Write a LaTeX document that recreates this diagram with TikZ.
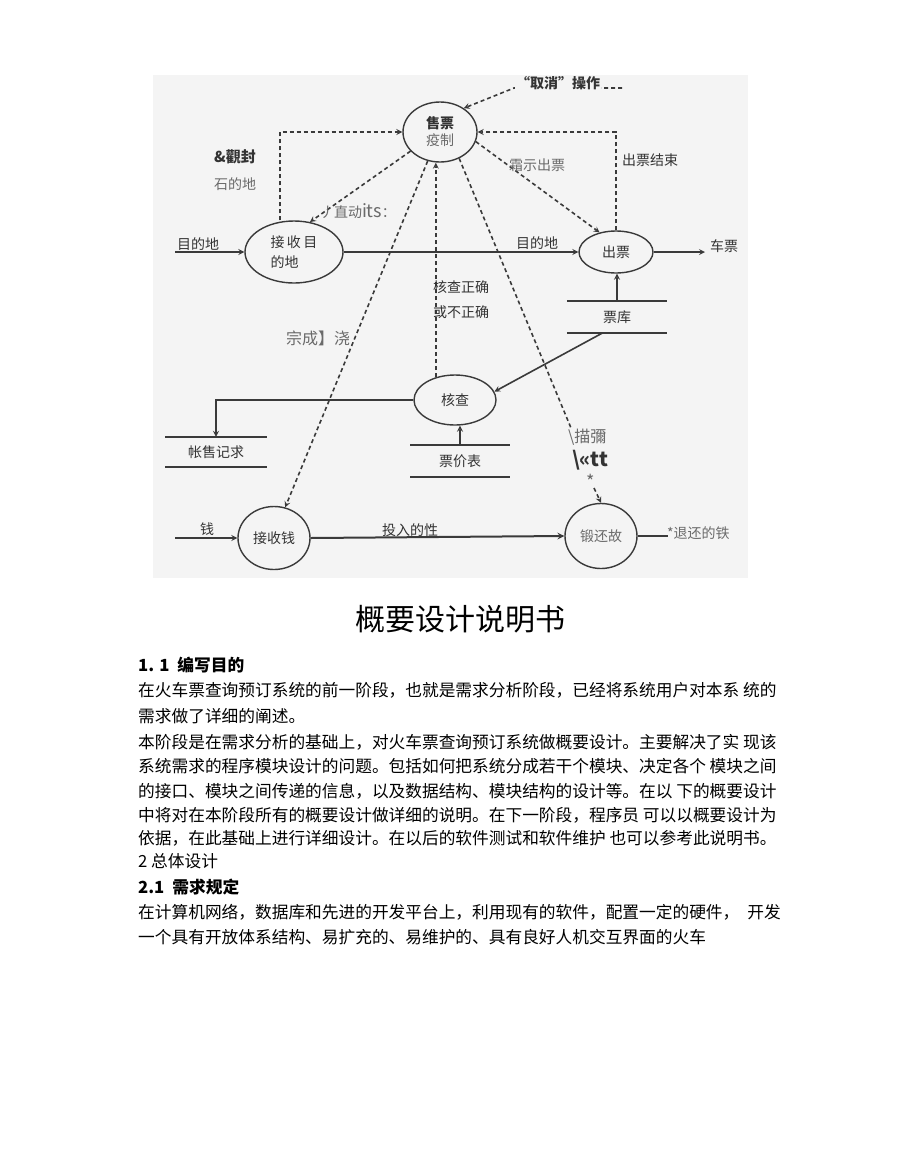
\documentclass[tikz,border=0pt]{standalone}
\usepackage{fontspec}
\setmainfont{Noto Sans CJK SC}
\usetikzlibrary{shapes.geometric}
\definecolor{ink}{HTML}{3A3A3A}
\definecolor{scan}{HTML}{F4F4F4}
\definecolor{ocr}{HTML}{6A6A6A}

\begin{document}
\begin{tikzpicture}[x=1pt,y=-1pt,
  proc/.style={ellipse,draw=ink,line width=1.4pt,inner sep=0pt,align=center,text=black!80,font=\fontsize{14}{17}\selectfont},
  flow/.style={-stealth,line width=1.6pt,draw=ink},
  ctrl/.style={-stealth,line width=1.6pt,draw=ink,dash pattern=on 4pt off 3pt},
  storeline/.style={line width=1.8pt,draw=ink},
  store/.style={inner sep=0pt,minimum height=31pt,text=black!80,font=\fontsize{14}{17}\selectfont},
  lbl/.style={inner sep=1pt,text=black!80,font=\fontsize{14}{17}\selectfont},
  ocrlbl/.style={inner sep=1pt,text=ocr,font=\fontsize{14}{17}\selectfont},
  body/.style={anchor=west,inner sep=0pt,font=\fontsize{16.7}{20}\selectfont}]
  \useasboundingbox (0,0) rectangle (920,1168);
  \fill[scan] (153,75) rectangle (748,578);

  % processes
  \node[proc,minimum width=74pt,minimum height=60pt] (sell) at (440,132) {{\bfseries 售票}\\{\color{ocr}疫制}};
  \node[proc,minimum width=98pt,minimum height=62pt,align=left] (recvdest) at (294,252) {接\,收\,目\\[3pt]的地};
  \node[proc,minimum width=74pt,minimum height=42pt] (issue) at (616,252) {出票};
  \node[proc,minimum width=82pt,minimum height=50pt] (check) at (455,400) {核查};
  \node[proc,minimum width=72pt,minimum height=63pt] (recvmoney) at (274,538) {接收钱};
  \node[proc,minimum width=72pt,minimum height=65pt,text=ocr] (refund) at (601,536) {锻还故};

  % data stores
  \node[store,minimum width=100pt] (tickets) at (617,317) {票库};
  \node[store,minimum width=99pt] (prices) at (460,461) {票价表};
  \node[store,minimum width=101pt,minimum height=30pt] (sales) at (216,452) {帐售记求};
  \foreach \s in {tickets,prices,sales}{
    \draw[storeline] (\s.north west) -- (\s.north east);
    \draw[storeline] (\s.south west) -- (\s.south east);
  }

  % free ends
  \coordinate (dstin) at (175,252);
  \coordinate (moneyin) at (175,538);
  \coordinate (ticketout) at (705,252);
  \coordinate (refundout) at (668,536);
  \coordinate (cancel) at (622,88);
  \coordinate (cancelbend) at (514,88);
  \coordinate (descend) at (571,428);
  \coordinate (descstart) at (594,488);

  % data flows
  \draw[flow] (dstin) -- (recvdest.west);
  \draw[flow] (recvdest.east) -- (issue.west);
  \draw[flow] (issue.east) -- (ticketout);
  \draw[flow] (tickets.north) -- (tickets.north |- issue.south);
  \draw[flow] ([xshift=-14pt]tickets.south) -- (check.12);
  \draw[flow] (prices.north) -- (prices.north |- check.south);
  \draw[flow] (check.west) -| (sales.north);
  \draw[flow] (moneyin) -- (recvmoney.west);
  \draw[flow,line width=2pt] (recvmoney.east) -- (refund.west);
  \draw[flow,-] (refund.east) -- (refundout);

  % control flows
  \draw[ctrl] ([xshift=-14pt]recvdest.north) |- (sell.west);
  \draw[ctrl] (sell.213) -- (recvdest.62);
  \draw[ctrl] (sell.247) -- (recvmoney.70);
  \draw[ctrl] (check.130) -- (check.130 |- sell.south);
  \draw[ctrl,-] (sell.306) -- (descend);
  \draw[ctrl] (descstart) -- (refund.north);
  \draw[ctrl] (sell.345) -- (issue.130);
  \draw[ctrl] (issue.north) |- (sell.east);
  \draw[ctrl] (cancel) -- (cancelbend) -- (sell.45);

  % labels
  \node[lbl,fill=scan,font=\bfseries\fontsize{14}{17}\selectfont] (canceltxt) at (558,83) {“取消”操作};
  \node[lbl,anchor=west,font=\bfseries\fontsize{15}{17}\selectfont] (addrlbl) at (213,157) {\&觀封};
  \node[ocrlbl,anchor=west] (addrlbl2) at (213,184) {石的地};
  \node[ocrlbl] (autolbl) at (358,211) {丿直动{\fontsize{18}{18}\selectfont its}：};
  \node[ocrlbl] (showlbl) at (537,165) {霜示出票};
  \node[lbl] (endlbl) at (650,160) {出票结束};
  \node[lbl] (dstlbl) at (198,244) {目的地};
  \node[lbl] (dstlbl2) at (537,243) {目的地};
  \node[lbl] (ticketlbl) at (724,246) {车票};
  \node[lbl,anchor=west,align=left] (oklbl) at (432,300) {核查正确\\[8pt]或不正确};
  \node[ocrlbl,font=\fontsize{16}{18}\selectfont] (donelbl) at (318,338) {宗成】浇};
  \node[ocrlbl,font=\fontsize{16}{18}\selectfont,anchor=west] (desclbl) at (567,437) {\textbackslash 描彌};
  \node[lbl,font=\bfseries\fontsize{20}{22}\selectfont,anchor=west] (desclbl2) at (571,460) {\textbackslash«tt};
  \node[ocrlbl,font=\fontsize{18}{18}\selectfont] (star) at (591,481) {*};
  \node[lbl] (moneylbl) at (207,529) {钱};
  \node[lbl] (inslbl) at (410,530) {投入的性};
  \node[ocrlbl,anchor=west] (refundlbl) at (666,533) {*退还的铁};

  % text of the page
  \node[font=\fontsize{30}{34}\selectfont] (title) at (460,619) {概要设计说明书};
  \node[body] (h11) at (138,665) {{\bfseries 1. 1\hspace{8pt}编写目的}};
  \node[body] (l1) at (138,690) {在火车票查询预订系统的前一阶段，也就是需求分析阶段，已经将系统用户对本系 统的};
  \node[body] (l2) at (138,716) {需求做了详细的阐述。};
  \node[body] (l3) at (138,742) {本阶段是在需求分析的基础上，对火车票查询预订系统做概要设计。主要解决了实 现该};
  \node[body] (l4) at (138,766) {系统需求的程序模块设计的问题。包括如何把系统分成若干个模块、决定各个 模块之间};
  \node[body] (l5) at (138,791) {的接口、模块之间传递的信息，以及数据结构、模块结构的设计等。在以 下的概要设计};
  \node[body] (l6) at (138,815) {中将对在本阶段所有的概要设计做详细的说明。在下一阶段，程序员 可以以概要设计为};
  \node[body] (l7) at (138,838) {依据，在此基础上进行详细设计。在以后的软件测试和软件维护 也可以参考此说明书。};
  \node[body] (h2) at (138,861) {2 总体设计};
  \node[body] (h21) at (138,887) {{\bfseries 2.1\hspace{8pt}需求规定}};
  \node[body] (l8) at (138,912) {在计算机网络，数据库和先进的开发平台上，利用现有的软件，配置一定的硬件，\hspace{8pt}开发};
  \node[body] (l9) at (138,937) {一个具有开放体系结构、易扩充的、易维护的、具有良好人机交互界面的火车};
\end{tikzpicture}
\end{document}
